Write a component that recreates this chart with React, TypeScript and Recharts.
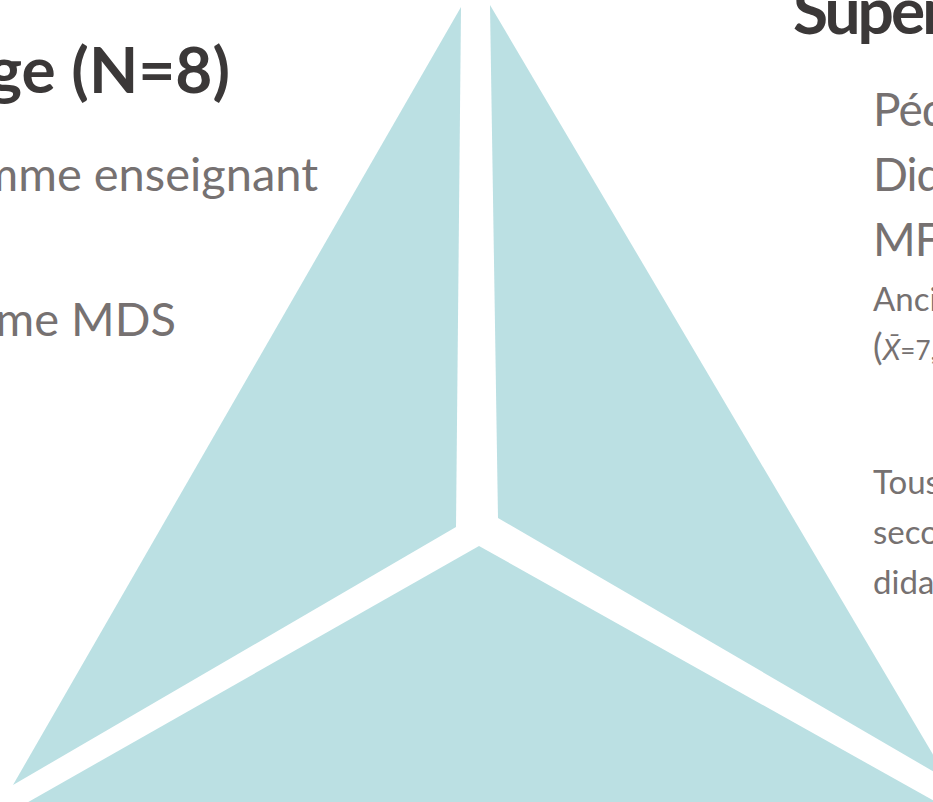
import React from 'react';
import { Scatter, ScatterChart, XAxis, YAxis } from 'recharts';

const WIDTH = 933;
const HEIGHT = 802;

const TEAL = '#BBE0E3';
const TITLE = '#3B3838';
const GREY = '#767171';

// triangle panels, in screen units (y grows downward)
const leftPanel = [
  { x: 461, y: 7 },
  { x: 456, y: 527 },
  { x: 13, y: 785 },
];
const rightPanel = [
  { x: 490, y: 5 },
  { x: 498, y: 518 },
  { x: 948, y: 780 },
];
const bottomPanel = [
  { x: 479, y: 546 },
  { x: 986, y: 830 },
  { x: -21, y: 830 },
];

const leftTitle = 'Échantillonnage (N=8)';
const leftItems = ['Formé comme enseignant', 'Formé comme MDS'];

const rightTitle = 'Superviseurs (N=6)';
const rightItems = ['Pédagogues', 'Didacticiens', 'MFE'];
const rightNote = ['Ancienneté', '=7,5 ans)'];
const rightFooter = ['Tous issus du', 'secondaire et de la', 'didactique'];

const FONT = 'Lato, "Open Sans", sans-serif';

const polygonLine = (fill: string) => (props: any) => {
  const pts = (props.points || [])
    .map((p: { x: number; y: number }) => `${p.x},${p.y}`)
    .join(' ');
  return <polygon points={pts} fill={fill} stroke="none" />;
};

const noDot = () => <g />;

export default function App() {
  return (
    <div
      style={{
        position: 'absolute',
        left: 0,
        top: 0,
        width: WIDTH,
        height: HEIGHT,
        overflow: 'hidden',
        background: '#fff',
      }}
    >
      <ScatterChart
        width={WIDTH}
        height={HEIGHT}
        margin={{ top: 0, right: 0, bottom: 0, left: 0 }}
      >
        <XAxis
          type="number"
          dataKey="x"
          domain={[0, WIDTH]}
          allowDataOverflow
          hide
        />
        <YAxis
          type="number"
          dataKey="y"
          domain={[0, HEIGHT]}
          allowDataOverflow
          reversed
          hide
        />
        {[leftPanel, rightPanel, bottomPanel].map((panel, i) => (
          <Scatter
            key={i}
            data={panel}
            fill={TEAL}
            shape={noDot}
            line={polygonLine(TEAL)}
            lineType="joint"
            isAnimationActive={false}
          />
        ))}
      </ScatterChart>

      <svg
        width={WIDTH}
        height={HEIGHT}
        style={{ position: 'absolute', left: 0, top: 0 }}
        fontFamily={FONT}
      >
        <text x={230} y={93} textAnchor="end" fontSize={64} fontWeight={700} fill={TITLE}>
          {leftTitle}
        </text>
        <text x={318} y={191} textAnchor="end" fontSize={47} fill={GREY}>
          {leftItems[0]}
        </text>
        <text x={176} y={336} textAnchor="end" fontSize={47} fill={GREY}>
          {leftItems[1]}
        </text>

        <text x={793} y={34} fontSize={64} fontWeight={700} letterSpacing={-3} fill={TITLE}>
          {rightTitle}
        </text>
        {rightItems.map((t, i) => (
          <text key={t} x={873} y={126 + i * 65} fontSize={46} letterSpacing={-1} fill={GREY}>
            {t}
          </text>
        ))}
        <text x={873} y={311} fontSize={33} fill={GREY}>
          {rightNote[0]}
        </text>
        <text x={873} y={360} fill={GREY}>
          <tspan fontSize={36}>(</tspan>
          <tspan fontSize={29} fontStyle="italic">X̄</tspan>
          <tspan fontSize={26}>{rightNote[1]}</tspan>
        </text>
        {rightFooter.map((t, i) => (
          <text key={t} x={873} y={494 + i * 50} fontSize={33} fill={GREY}>
            {t}
          </text>
        ))}
      </svg>
    </div>
  );
}
